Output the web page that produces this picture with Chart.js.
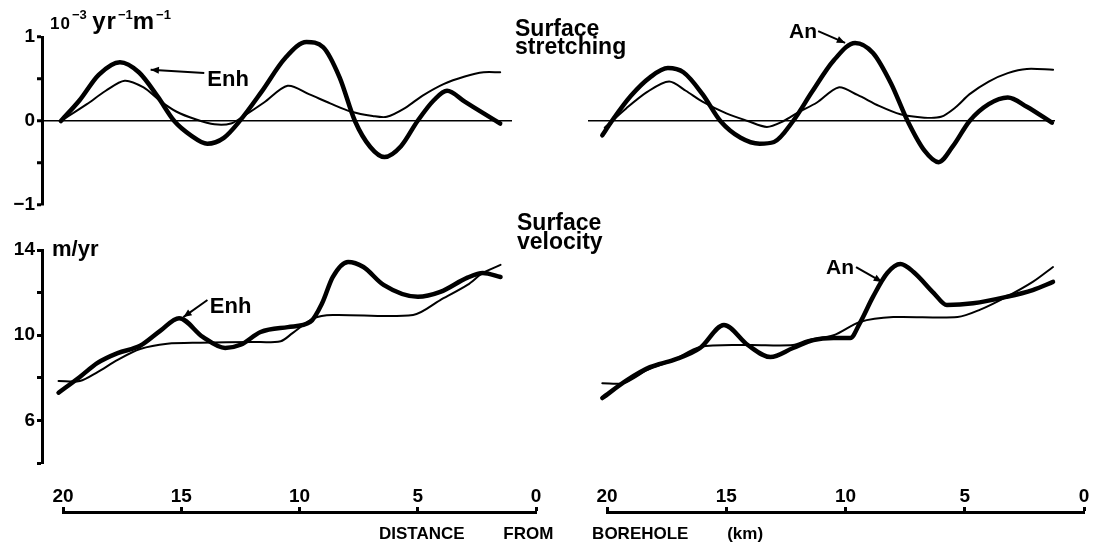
<!DOCTYPE html>
<html>
<head>
<meta charset="utf-8">
<script src="https://cdn.jsdelivr.net/npm/chart.js@4.4.1/dist/chart.umd.min.js"></script>
<style>
	body { margin: 0; background: #fff; }
	#wrap { position: relative; width: 1096px; height: 553px; overflow: hidden; font-family: "Liberation Sans", Arial, sans-serif; font-weight: bold; color: #000; }
	#wrap canvas, #wrap .txt { position: absolute; }
	.txt { white-space: nowrap; }
	.unit { letter-spacing: 1px; }
	.unit sup { font-size: 13px; vertical-align: 10px; letter-spacing: 0; margin-left: 1px; }
</style>
</head>
<body>
<div id="wrap">
	<canvas id="tl" width="560" height="230" style="left:0;top:0"></canvas>
	<canvas id="tr" width="556" height="230" style="left:540px;top:0"></canvas>
	<canvas id="bl" width="560" height="250" style="left:0;top:230px"></canvas>
	<canvas id="br" width="556" height="250" style="left:540px;top:230px"></canvas>
	<canvas id="axl" width="560" height="60" style="left:0;top:470px"></canvas>
	<canvas id="axr" width="556" height="60" style="left:540px;top:470px"></canvas>

	<div class="txt unit" style="left:50px;top:2px;line-height:26px"><span style="font-size:17px">10</span><sup>−3</sup> <span style="font-size:24px">yr</span><sup>−1</sup><span style="font-size:24px">m</span><sup>−1</sup></div>
	<div class="txt" style="left:52px;top:238px;font-size:22px;line-height:1">m/yr</div>
	<div class="txt" style="left:515px;top:19px;font-size:23px;line-height:18px">Surface<br>stretching</div>
	<div class="txt" style="left:517px;top:213px;font-size:23px;line-height:19px">Surface<br>velocity</div>
	<div class="txt" style="left:379px;top:525px;font-size:17px;line-height:1;word-spacing:34px">DISTANCE FROM BOREHOLE (km)</div>
</div>

<script>
//+++++++++++++++++++++++ Start:data +++++++++++++++++++++++
// distance from borehole (km) and values
var xTicks = [20, 15, 10, 5, 0];

// surface stretching, 10^-3 yr^-1 m^-1
var strEnhKm = [20.1, 19.3, 18.5, 17.6, 16.8, 16.0, 15.3, 14.6, 13.9, 13.2, 12.5, 11.6, 10.6, 9.7, 9.0, 8.3, 7.65, 7.0, 6.4, 5.7, 5.0, 4.3, 3.75, 3.0, 2.2, 1.5];
var strEnh   = [0, 0.25, 0.55, 0.70, 0.58, 0.29, 0.0, -0.17, -0.27, -0.20, 0.01, 0.35, 0.75, 0.94, 0.88, 0.52, 0.0, -0.31, -0.43, -0.30, 0.0, 0.25, 0.36, 0.23, 0.09, -0.03];
var strObsLKm = [20.1, 19.0, 18.2, 17.4, 16.6, 15.9, 15.2, 14.4, 13.6, 12.9, 12.3, 11.5, 10.5, 9.6, 8.7, 7.8, 6.9, 6.3, 5.5, 4.8, 3.9, 3.0, 2.2, 1.5];
var strObsL   = [0, 0.20, 0.36, 0.48, 0.40, 0.24, 0.11, 0.02, -0.04, -0.03, 0.07, 0.22, 0.42, 0.32, 0.21, 0.11, 0.06, 0.05, 0.16, 0.30, 0.44, 0.53, 0.58, 0.58];
var strAnKm = [20.2, 19.8, 19.0, 18.2, 17.45, 16.8, 16.0, 15.25, 14.4, 13.6, 13.0, 12.2, 11.4, 10.5, 9.6, 8.85, 8.1, 7.4, 6.7, 6.1, 5.5, 4.8, 4.0, 3.2, 2.4, 1.35];
var strAn   = [-0.17, 0.0, 0.30, 0.52, 0.63, 0.58, 0.32, 0.0, -0.20, -0.27, -0.25, 0.0, 0.35, 0.72, 0.93, 0.81, 0.45, 0.0, -0.35, -0.49, -0.30, 0.0, 0.20, 0.28, 0.17, -0.02];
var strObsRKm = [20.1, 19.2, 18.3, 17.4, 16.7, 16.0, 15.0, 14.1, 13.3, 12.6, 12.0, 11.2, 10.3, 9.5, 8.6, 7.7, 6.7, 6.0, 5.4, 4.8, 4.0, 3.2, 2.4, 1.3];
var strObsR   = [-0.08, 0.15, 0.35, 0.47, 0.36, 0.23, 0.09, 0.0, -0.07, 0.0, 0.10, 0.22, 0.40, 0.31, 0.18, 0.08, 0.04, 0.05, 0.16, 0.32, 0.47, 0.57, 0.62, 0.61];

// surface velocity, m/yr
var velEnhKm = [20.2, 19.3, 18.55, 17.7, 16.75, 15.9, 15.1, 14.1, 13.15, 12.5, 11.65, 10.5, 9.55, 9.05, 8.6, 7.95, 7.3, 6.45, 5.0, 4.05, 2.9, 2.25, 1.5];
var velEnh   = [7.3, 8.04, 8.7, 9.16, 9.5, 10.2, 10.8, 9.92, 9.4, 9.55, 10.15, 10.38, 10.62, 11.5, 12.73, 13.44, 13.2, 12.36, 11.8, 12.03, 12.7, 12.92, 12.73];
var velObsLKm = [20.2, 19.3, 18.55, 17.7, 16.75, 15.6, 14.2, 12.0, 10.8, 10.3, 9.4, 8.6, 5.2, 4.05, 2.9, 2.25, 1.5];
var velObsL   = [7.85, 7.85, 8.27, 8.84, 9.35, 9.6, 9.65, 9.68, 9.72, 10.1, 10.8, 10.95, 10.95, 11.65, 12.36, 12.92, 13.3];
var velAnKm = [20.2, 19.15, 18.2, 17.2, 16.1, 15.1, 14.1, 13.15, 12.2, 11.35, 10.5, 9.8, 9.4, 8.85, 8.25, 7.7, 7.15, 6.3, 5.75, 4.65, 3.25, 2.15, 1.3];
var velAn   = [7.05, 7.9, 8.5, 8.84, 9.4, 10.48, 9.54, 8.98, 9.4, 9.77, 9.87, 9.87, 10.57, 11.8, 12.92, 13.34, 12.97, 11.98, 11.42, 11.5, 11.8, 12.12, 12.5];
var velObsRKm = [20.2, 19.3, 18.3, 17.2, 16.1, 14.1, 12.2, 11.6, 10.5, 9.4, 8.0, 5.3, 4.35, 3.25, 2.15, 1.3];
var velObsR   = [7.75, 7.75, 8.37, 8.84, 9.45, 9.54, 9.54, 9.77, 10.0, 10.62, 10.85, 10.85, 11.2, 11.8, 12.5, 13.2];
//-------------------- End:data --------------------


//+++++++++++++++++++++++ Start:helpers +++++++++++++++++++++++
var FONT = '"Liberation Sans", Arial, sans-serif';

function pts(km, val) {
	return km.map(function (k, i) { return { x: k, y: val[i] }; });
}

function thick(km, val) {
	return { data: pts(km, val), borderColor: '#000', borderWidth: 4.5, pointRadius: 0, cubicInterpolationMode: 'monotone', borderCapStyle: 'round', borderJoinStyle: 'round', clip: false };
}
function thin(km, val) {
	return { data: pts(km, val), borderColor: '#000', borderWidth: 2, pointRadius: 0, tension: 0.3, borderCapStyle: 'round', borderJoinStyle: 'round', clip: false };
}

// "Enh" / "An" label with a little arrow, placed in data units
var notePlugin = {
	id: 'note',
	afterDatasetsDraw: function (chart, args, o) {
		if (!o || !o.text) return;
		var c = chart.ctx, xs = chart.scales.x, ys = chart.scales.y;
		var x1 = xs.getPixelForValue(o.from[0]), y1 = ys.getPixelForValue(o.from[1]);
		var x2 = xs.getPixelForValue(o.to[0]), y2 = ys.getPixelForValue(o.to[1]);
		c.save();
		c.strokeStyle = '#000';
		c.fillStyle = '#000';
		c.lineWidth = 2;
		c.beginPath();
		c.moveTo(x1, y1);
		c.lineTo(x2, y2);
		c.stroke();
		var a = Math.atan2(y2 - y1, x2 - x1);
		c.beginPath();
		c.moveTo(x2, y2);
		c.lineTo(x2 - 9 * Math.cos(a - 0.4), y2 - 9 * Math.sin(a - 0.4));
		c.lineTo(x2 - 9 * Math.cos(a + 0.4), y2 - 9 * Math.sin(a + 0.4));
		c.closePath();
		c.fill();
		c.font = 'bold ' + o.size + 'px ' + FONT;
		c.textAlign = 'left';
		c.textBaseline = 'middle';
		c.fillText(o.text, xs.getPixelForValue(o.at[0]), ys.getPixelForValue(o.at[1]));
		c.restore();
	}
};

function zeroOnly(c) {
	return c.tick && c.tick.value === 0 ? '#000' : 'rgba(0,0,0,0)';
}

function yAxis(min, max, step, labelled) {
	return {
		min: min, max: max,
		border: { color: '#000', width: 3 },
		grid: { drawOnChartArea: false, tickLength: 5, tickWidth: 3, tickColor: '#000' },
		ticks: {
			stepSize: step, color: '#000', padding: 2,
			font: { family: FONT, size: 19, weight: 'bold' },
			callback: function (v) {
				if (labelled.indexOf(v) < 0) return '';
				return v < 0 ? '−' + Math.abs(v) : String(v);
			}
		},
		afterFit: function (s) { s.width = 42; }
	};
}

function panel(id, datasets, xmin, xmax, y, pad, note) {
	return new Chart(document.getElementById(id), {
		type: 'line',
		data: { datasets: datasets },
		options: {
			responsive: false,
			animation: false,
			layout: { padding: pad },
			plugins: { legend: { display: false }, tooltip: { enabled: false }, note: note },
			scales: {
				x: { type: 'linear', reverse: true, min: xmin, max: xmax, display: false },
				y: y
			}
		},
		plugins: [notePlugin]
	});
}

function xAxis(id, pad) {
	return new Chart(document.getElementById(id), {
		type: 'line',
		data: { datasets: [] },
		options: {
			responsive: false,
			animation: false,
			layout: { padding: pad },
			plugins: { legend: { display: false }, tooltip: { enabled: false } },
			scales: {
				x: {
					type: 'linear', position: 'top', reverse: true, min: 0, max: 20,
					border: { color: '#000', width: 3 },
					grid: { drawOnChartArea: false, tickLength: 5, tickWidth: 3, tickColor: '#000' },
					afterBuildTicks: function (s) { s.ticks = xTicks.map(function (v) { return { value: v }; }); },
					ticks: { color: '#000', padding: -1, maxRotation: 0, font: { family: FONT, size: 19, weight: 'bold' } },
					afterFit: function (s) { s.height = 42; }
				},
				y: { display: false }
			}
		}
	});
}
//-------------------- End:helpers --------------------


//+++++++++++++++++++++++ Start:surface stretching +++++++++++++++++++++++
var tlY = yAxis(-1, 1, 0.5, [1, 0, -1]);
tlY.grid.drawOnChartArea = true;
tlY.grid.color = zeroOnly;
tlY.grid.lineWidth = 1.5;

panel('tl', [thick(strEnhKm, strEnh), thin(strObsLKm, strObsL)], 1.0, 20.9, tlY,
	{ left: 0, top: 37, right: 48, bottom: 25 },
	{ text: 'Enh', size: 22, at: [13.9, 0.49], from: [14.03, 0.57], to: [16.3, 0.61] });

panel('tr', [thick(strAnKm, strAn), thin(strObsRKm, strObsR)], 1.22, 20.8, {
		min: -1, max: 1,
		border: { display: false },
		ticks: { display: false, stepSize: 1 },
		grid: { drawTicks: false, color: zeroOnly, lineWidth: 1.5 },
		afterFit: function (s) { s.width = 0; }
	},
	{ left: 48, top: 37, right: 41, bottom: 25 },
	{ text: 'An', size: 21, at: [12.37, 1.06], from: [11.15, 1.07], to: [10.02, 0.93] });
//-------------------- End:surface stretching --------------------


//+++++++++++++++++++++++ Start:surface velocity +++++++++++++++++++++++
panel('bl', [thick(velEnhKm, velEnh), thin(velObsLKm, velObsL)], 0, 20.9, yAxis(4, 14, 2, [14, 10, 6]),
	{ left: 0, top: 20, right: 24, bottom: 17 },
	{ text: 'Enh', size: 22, at: [13.8, 11.32], from: [13.9, 11.65], to: [14.92, 10.85] });

panel('br', [thick(velAnKm, velAn), thin(velObsRKm, velObsR)], 0, 20.8, { display: false, min: 4, max: 14 },
	{ left: 48, top: 20, right: 12, bottom: 17 },
	{ text: 'An', size: 21, at: [10.82, 13.15], from: [9.56, 13.2], to: [8.47, 12.5] });
//-------------------- End:surface velocity --------------------


//+++++++++++++++++++++++ Start:distance axes +++++++++++++++++++++++
xAxis('axl', { left: 63, top: 0, right: 24, bottom: 8 });
xAxis('axr', { left: 67, top: 0, right: 12, bottom: 8 });
//-------------------- End:distance axes --------------------
</script>
</body>
</html>
